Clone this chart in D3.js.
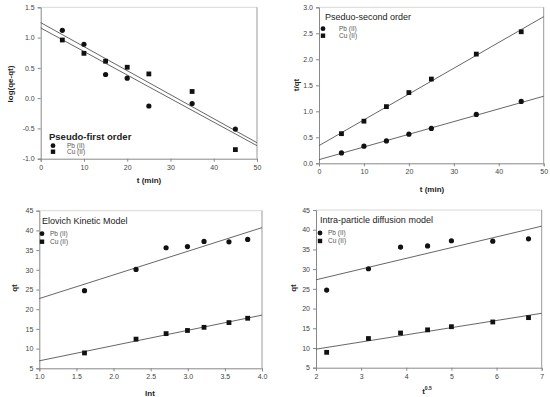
<!DOCTYPE html>
<html>
<head>
<meta charset="utf-8">
<script src="https://d3js.org/d3.v7.min.js"></script>
<style>
  body { margin: 0; background: #fff; }
  text { font-family: Arial, "Liberation Sans", sans-serif; }
</style>
</head>
<body>
<script>
// sampling times (min)
var times = [5, 10, 15, 20, 25, 35, 45];
var lnTimes = [1.609, 2.303, 2.708, 2.996, 3.219, 3.555, 3.807];
var sqrtTimes = [2.236, 3.162, 3.873, 4.472, 5.0, 5.916, 6.708];

// pseudo-first order: log(qe-qt)
var pfoPb = [1.12, 0.89, 0.39, 0.33, -0.13, -0.09, -0.51];
var pfoCu = [0.96, 0.74, 0.61, 0.51, 0.40, 0.11, -0.85];
var pfoFitA = [[0, 1.247], [50, -0.736]];
var pfoFitB = [[0, 1.159], [50, -0.785]];

// pseudo-second order: t/qt
var psoPb = [0.20, 0.33, 0.43, 0.56, 0.67, 0.94, 1.19];
var psoCu = [0.57, 0.81, 1.09, 1.36, 1.62, 2.10, 2.53];
var psoFitPb = [[0, 0.07], [50, 1.29]];
var psoFitCu = [[0, 0.34], [50, 2.82]];

// qt values, used by Elovich and intra-particle diffusion
var qtPb = [24.7, 30.1, 35.6, 35.9, 37.2, 37.1, 37.7];
var qtCu = [8.9, 12.4, 13.8, 14.6, 15.4, 16.6, 17.7];
var eloFitPb = [[1, 22.7], [4, 40.7]];
var eloFitCu = [[1, 6.9], [4, 18.5]];
var ipdFitPb = [[2, 27.3], [7, 40.9]];
var ipdFitCu = [[2, 9.7], [7, 18.8]];

var svg = d3.select('body').append('svg').attr('width', 550).attr('height', 397);

function zip(xs, ys) {
  return xs.map(function(x, i) { return [x, ys[i]]; });
}

function drawPanel(p) {
  var x = d3.scaleLinear().domain(p.xDomain).range([p.box[0], p.box[1]]);
  var y = d3.scaleLinear().domain(p.yDomain).range([p.box[3], p.box[2]]);
  var g = svg.append('g');

  // frame: top light, right darker
  g.append('line').attr('x1', p.box[0]).attr('x2', p.box[1]).attr('y1', p.box[2]).attr('y2', p.box[2])
    .attr('stroke', '#d8d8d8').attr('stroke-width', 1);
  g.append('line').attr('x1', p.box[1]).attr('x2', p.box[1]).attr('y1', p.box[2]).attr('y2', p.box[3])
    .attr('stroke', '#999').attr('stroke-width', 1);

  var xAxis = g.append('g').attr('transform', 'translate(0,' + p.box[3] + ')')
    .call(d3.axisBottom(x).tickValues(p.xTicks).tickFormat(p.xFmt).tickSize(3).tickPadding(3));
  var yAxis = g.append('g').attr('transform', 'translate(' + p.box[0] + ',0)')
    .call(d3.axisLeft(y).tickValues(p.yTicks).tickFormat(p.yFmt).tickSize(3).tickPadding(3));
  [xAxis, yAxis].forEach(function(a) {
    a.select('.domain').attr('stroke', '#888');
    a.selectAll('.tick line').attr('stroke', '#888');
    a.selectAll('.tick text').attr('fill', '#444').style('font-size', '7px');
  });

  // fitted lines
  var line = d3.line().x(function(d) { return x(d[0]); }).y(function(d) { return y(d[1]); });
  p.fits.forEach(function(f) {
    g.append('path').attr('d', line(f)).attr('fill', 'none').attr('stroke', '#555').attr('stroke-width', 0.9);
  });

  // points
  g.selectAll('.pb').data(zip(p.xs, p.pb)).enter().append('circle')
    .attr('cx', function(d) { return x(d[0]); }).attr('cy', function(d) { return y(d[1]); })
    .attr('r', 2.6).attr('fill', '#111');
  g.selectAll('.cu').data(zip(p.xs, p.cu)).enter().append('rect')
    .attr('x', function(d) { return x(d[0]) - 2.4; }).attr('y', function(d) { return y(d[1]) - 2.4; })
    .attr('width', 4.8).attr('height', 4.8).attr('fill', '#111');

  // axis titles
  var xt = g.append('text').attr('x', p.xLabelPos[0]).attr('y', p.xLabelPos[1]).attr('text-anchor', 'middle')
    .style('font-size', '8px').style('font-weight', 'bold').attr('fill', '#222').text(p.xLabel);
  if (p.xSup) {
    xt.append('tspan').attr('dy', -4).style('font-size', '5px').text(p.xSup);
  }
  g.append('text').attr('transform', 'translate(' + p.yLabelPos[0] + ',' + p.yLabelPos[1] + ') rotate(-90)')
    .attr('text-anchor', 'middle').style('font-size', '8px').style('font-weight', 'bold').attr('fill', '#222').text(p.yLabel);

  // legend
  var L = p.legend;
  g.append('text').attr('x', L.x).attr('y', L.y).style('font-size', L.titleSize)
    .style('font-weight', L.titleWeight).attr('fill', '#222').text(p.title);
  g.append('circle').attr('cx', L.mx).attr('cy', L.y1).attr('r', 2.4).attr('fill', '#111');
  g.append('rect').attr('x', L.mx - 2.2).attr('y', L.y2 - 2.2).attr('width', 4.4).attr('height', 4.4).attr('fill', '#111');
  g.append('text').attr('x', L.tx).attr('y', L.y1 + 2.3).style('font-size', '6.5px').attr('fill', '#555').text('Pb (II)');
  g.append('text').attr('x', L.tx).attr('y', L.y2 + 2.3).style('font-size', '6.5px').attr('fill', '#555').text('Cu (II)');
}

// plain hyphen for negatives, as in the original
var f1 = function(v) { return d3.format('.1f')(v).replace('\u2212', '-'); };
var f0 = d3.format('d');

drawPanel({
  box: [40.7, 257, 7.3, 158.7], xDomain: [0, 50], yDomain: [-1, 1.5],
  xTicks: [0, 10, 20, 30, 40, 50], yTicks: [-1, -0.5, 0, 0.5, 1, 1.5], xFmt: f0, yFmt: f1,
  xs: times, pb: pfoPb, cu: pfoCu, fits: [pfoFitA, pfoFitB],
  xLabel: 't (min)', xLabelPos: [149, 183], yLabel: 'log(qe-qt)', yLabelPos: [13, 84],
  title: 'Pseudo-first order',
  legend: { x: 49, y: 140, titleSize: '9.5px', titleWeight: 'bold', mx: 53, tx: 67, y1: 145.7, y2: 151.7 }
});

drawPanel({
  box: [319, 543.7, 7.3, 163.3], xDomain: [0, 50], yDomain: [0, 3],
  xTicks: [0, 10, 20, 30, 40, 50], yTicks: [0, 0.5, 1, 1.5, 2, 2.5, 3], xFmt: f0, yFmt: f1,
  xs: times, pb: psoPb, cu: psoCu, fits: [psoFitPb, psoFitCu],
  xLabel: 't (min)', xLabelPos: [432, 192], yLabel: 't/qt', yLabelPos: [299, 85],
  title: 'Pseduo-second order',
  legend: { x: 325, y: 20, titleSize: '9px', titleWeight: 'normal', mx: 323, tx: 339, y1: 28.7, y2: 35.7 }
});

drawPanel({
  box: [39.3, 262, 210.7, 368.3], xDomain: [1, 4], yDomain: [5, 45],
  xTicks: [1, 1.5, 2, 2.5, 3, 3.5, 4], yTicks: [5, 10, 15, 20, 25, 30, 35, 40, 45], xFmt: f1, yFmt: f0,
  xs: lnTimes, pb: qtPb, cu: qtCu, fits: [eloFitPb, eloFitCu],
  xLabel: 'lnt', xLabelPos: [150, 396], yLabel: 'qt', yLabelPos: [17, 288],
  title: 'Elovich Kinetic Model',
  legend: { x: 42, y: 224, titleSize: '9px', titleWeight: 'normal', mx: 42, tx: 50, y1: 233.7, y2: 241.7 }
});

drawPanel({
  box: [316, 541.7, 210, 367.7], xDomain: [2, 7], yDomain: [5, 45],
  xTicks: [2, 3, 4, 5, 6, 7], yTicks: [5, 10, 15, 20, 25, 30, 35, 40, 45], xFmt: f0, yFmt: f0,
  xs: sqrtTimes, pb: qtPb, cu: qtCu, fits: [ipdFitPb, ipdFitCu],
  xLabel: 't', xSup: '0.5', xLabelPos: [427, 394], yLabel: 'qt', yLabelPos: [296, 288],
  title: 'Intra-particle diffusion model',
  legend: { x: 320, y: 223, titleSize: '9px', titleWeight: 'normal', mx: 320, tx: 328, y1: 233, y2: 241 }
});
</script>
</body>
</html>
